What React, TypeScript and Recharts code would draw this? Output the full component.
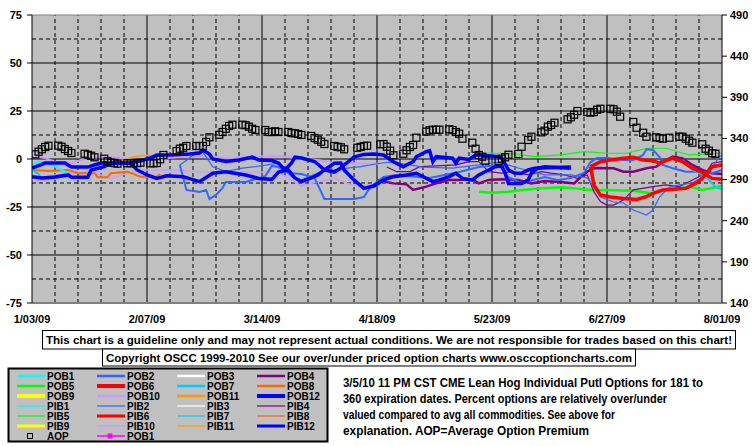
import React from "react";
import { ComposedChart, Line, XAxis, YAxis, CartesianGrid, ReferenceLine } from "recharts";

// x values are days counted from 1/03/09
const xTickDays = [0, 35, 70, 105, 140, 175, 210];
const xTickLabels = ["1/03/09", "2/07/09", "3/14/09", "4/18/09", "5/23/09", "6/27/09", "8/01/09"];
const pctTicks = [-75, -50, -25, 0, 25, 50, 75];
const aopTicks = [140, 190, 240, 290, 340, 390, 440, 490];

// [day, value] pairs
const aop = [
  [1, 320.7], [2, 323.9], [3, 326.8], [4, 329.6], [5, 331.2], [8, 331.2], [9, 329.9], [10, 327.1], [11, 324.7], [12, 322.3],
  [16, 321.4], [17, 320.2], [18, 319.0], [19, 317.1], [22, 315.4], [23, 312.2], [24, 310.5], [25, 310.1], [26, 309.3],
  [29, 309.8], [30, 309.9], [31, 310], [32, 310], [33, 310.5], [36, 309.8], [37, 309.8], [38, 310.1], [39, 314.6], [40, 319.9],
  [44, 324.7], [45, 327.5], [46, 328.7], [47, 330.8], [50, 330.8], [51, 330.8], [52, 330.8], [53, 335.7], [54, 341.4],
  [57, 344.5], [58, 347.8], [59, 351.8], [60, 355.1], [61, 356.7], [64, 356.7], [65, 356.0], [66, 354.3], [67, 351.8], [68, 350.2],
  [71, 350.2], [72, 347.8], [73, 347.8], [74, 348.7], [75, 347.8], [78, 347.8], [79, 346.6], [80, 346.2], [81, 345.4], [82, 344.2],
  [85, 343.0], [86, 340.5], [87, 338.5], [88, 336.0], [89, 333.2], [92, 330.8], [93, 329.9], [94, 329.2], [95, 326.8],
  [99, 328.7], [100, 329.6], [101, 330.8], [102, 331.2], [106, 332.9], [107, 333.2], [108, 329.9], [109, 325.1], [110, 319.5],
  [113, 321.4], [114, 325.6], [115, 329.6], [116, 332.0], [117, 340.9], [120, 348.2], [121, 349.9], [122, 350.6], [123, 350.6], [124, 350.6],
  [127, 351.1], [128, 350.2], [129, 347.8], [130, 345.7], [131, 339.7], [134, 334.8], [135, 327.5], [136, 319.9], [137, 317.8], [138, 312.9],
  [142, 312.9], [143, 315.4], [144, 317.1], [145, 320.2], [148, 321.1], [149, 329.9], [151, 338.1], [152, 342.1],
  [155, 347.4], [156, 349.4], [157, 354.3], [158, 356.3], [159, 359.1], [163, 363.2], [164, 365.7], [165, 368.8], [166, 373.3],
  [169, 372.1], [170, 371.3], [171, 372.1], [172, 374.9], [173, 376.1], [176, 376.1], [177, 375.4], [178, 372.5], [179, 366.4],
  [183, 360.0], [184, 353.0], [186, 346.9], [187, 342.1], [190, 341.4], [191, 340.5], [192, 339.7], [194, 340.9],
  [197, 342.1], [198, 342.1], [199, 339.7], [200, 337.2], [201, 334.8], [204, 332.9], [205, 327.5], [206, 325.1], [207, 322.0], [208, 321.4],
];

const pob12 = [
  [0, -4.7], [4, -2.1], [10, -2.1], [12, -4.2], [17, -4.2], [19, -3.1], [21, -2.1], [30, -2.1], [33, -1.0], [36, 0.5], [38, 2.1],
  [42, 2.1], [48, 2.6], [51, 3.1], [52, 4.7], [54, 2.6], [55, 0], [59, -1.3], [63, -0.5], [67, 1.0], [69, -0.5], [73, -0.8],
  [75, -2.1], [77, -5.7], [79, -2.1], [80, 1.0], [82, 0.5], [86, -1.3], [89, -5.7], [92, -6.8], [94, -4.7], [95, -3.1], [98, 1.0],
  [101, 2.4], [104, 2.6], [107, 2.1], [110, -1.4], [113, -4.0], [114, -3.1], [116, -1.4], [117, 1.2], [120, 3.8], [121, 4.3],
  [122, -1.4], [123, 1.2], [128, 0.4], [129, -2.2], [130, 0.4], [133, -0.2], [135, 2.1], [136, 2.1], [142, 1.2], [143, 0.5],
  [145, -5.7], [147, -7.4], [149, -7.4], [151, -5.7], [153, -4.8], [164, -4.2],
];

const pib12 = [
  [0, -9.2], [3, -9.9], [7, -9.4], [11, -8.3], [12, -9.5], [17, -9.5], [18, -5.7], [22, -4.0], [24, -2.2], [30, -2.2], [32, -5.7],
  [35, -8.3], [38, -10.1], [41, -8.7], [46, -9.2], [51, -11.8], [55, -7.4], [59, -6.6], [65, -8.3], [69, -10.1], [73, -10.6],
  [75, -6.8], [78, -5.7], [80, -9.9], [82, -11.8], [85, -9.9], [87, -8.3], [89, -5.7], [92, -2.2], [94, -2.1], [95, -5.7],
  [98, -10.9], [101, -15.3], [104, -14.1], [107, -10.9], [110, -9.2], [114, -8.3], [117, -7.4], [122, -11.8], [124, -10.9],
  [127, -9.2], [129, -7.4], [131, -10.1], [134, -10.9], [136, -8.3], [139, -5.7], [141, -4.0], [143, -3.6], [144, -7.4],
  [145, -12.7], [149, -12.7], [151, -10.9], [152, -7.4], [154, -4.8], [156, -4.0], [164, -4.8],
];

const pob2 = [
  [45, -3.1], [47, -16.1], [51, -17.2], [53, -16.1], [54, -20.8], [56, -18.7], [58, -15.1], [59, -12.0], [65, -12.0], [71, -8.9],
  [73, -3.6], [75, -4.2], [78, -7.3], [82, -7.8], [86, -9.9], [89, -20.8], [98, -20.8], [101, -19.8], [103, -14.6], [107, -9.4],
  [111, -8.3], [121, -9.9], [130, -6.8], [136, -4.2], [142, -3.1], [145, -9.4], [149, -12.5], [156, -9.4], [160, -10.9], [164, -9.9],
  [168, -7.3], [170, -1.6], [172, 0.5], [175, 0.5], [180, -0.5], [183, -0.5], [186, 2.1], [187, 5.1], [189, 4.7], [191, 1.0],
  [192, -3.1], [195, -4.8], [199, -6.6], [203, -6.6], [207, -7.4], [210, -5.7],
];

const pib2 = [
  [45, -3.1], [48, 0.5], [50, 3.6], [52, 3.6], [55, -4.0], [59, -6.6], [64, -4.8], [68, -4.0], [75, -2.2], [79, -9.2], [82, -10.9],
  [88, -6.6], [92, -5.7], [96, -4.8], [100, -4.0], [106, -2.2], [109, -1.6], [115, -3.1], [119, -4.2], [128, -4.7], [136, -3.1],
  [142, -1.6], [148, -4.7], [156, -8.3], [164, -8.3], [169, -9.9], [171, -14.6], [173, -19.8], [177, -22.4], [180, -22.9],
  [183, -26.6], [187, -29.2], [189, -26.6], [191, -19.8], [194, -14.6], [197, -13.5], [201, -12.5], [205, -8.3], [207, -4.7],
  [209, 1.0], [210, 2.1],
];

const pob10 = [
  [0, 2.1], [4, 0.5], [7, -1.6], [12, -2.1], [15, -0.5], [17, 0.5], [21, 1.2], [25, 0.9], [29, 0], [33, -0.9], [37, -0.5],
  [42, 0.5], [45, 1.2], [51, 1.0], [61, 0.4], [67, 1.2], [76, 1.6], [82, 0], [87, -0.5], [92, -2.1], [98, -2.2], [104, -2.6], [106, -2.4],
];

const pib10 = [
  [0, -9.2], [2, -11.8], [4, -10.9], [7, -8.3], [11, -7.3], [18, -6.8], [24, -10.1], [27, -8.3], [33, -5.7], [43, -5.7], [51, -6.6],
  [61, -6.6], [69, -6.8], [75, -6.8], [82, -14.1], [87, -11.8], [92, -10.1], [96, -12.7], [100, -14.4], [104, -13.0],
];

const pob8 = [[0, -5.7], [5, -6.3], [11, -5.7], [14, -7.4], [19, -7.4], [20, -9.5], [23, -9.5], [24, -7.4], [29, -6.6], [33, -9.2], [38, -9.2], [39, -7.8]];
const pob11 = [[18, -3.1], [21, -2.6], [25, -1.4], [28, -0.5], [31, 1.2], [33, 1.7], [36, 2.1], [38, 0.5]];
const pob1 = [[0, -3.6], [2, -1.6], [4, -1.6], [6, -3.1], [9, -5.7], [11, -7.3]];
const pob7 = [[0, -5.7], [2, -7.8], [3, -10.4], [7, -9.9], [11, -8.9]];
const pib7 = [[198, -0.5], [201, -5.7], [204, -8.3], [206, -10.9], [208, -14.6], [210, -15.6]];

const pob4 = [
  [105, -10.9], [110, -12.7], [114, -13.2], [116, -16.1], [120, -14.4], [123, -12.7], [127, -10.9], [130, -10.9], [134, -10.6],
  [136, -12.7], [139, -10.9], [143, -10.6], [148, -10.9], [152, -12.7], [156, -11.5], [161, -12.0], [165, -12.7], [167, -9.4],
  [169, -6.6], [171, -4.8], [173, -4.7], [177, -4.8], [180, -6.6], [183, -6.6], [187, -4.8], [190, -4.0], [193, -0.5], [195, 1.3],
  [198, 0.3], [201, -3.1], [204, -5.7], [207, -7.4], [210, -7.8],
];

const pib4 = [
  [108, -4.2], [111, -6.6], [115, -6.6], [118, -4.0], [123, -3.6], [129, -3.1], [133, -1.4], [136, -1.4], [139, -6.6], [143, -7.4],
  [146, -6.6], [151, -8.3], [155, -6.6], [158, -7.4], [162, -8.3], [166, -10.1], [169, -8.3], [171, -17.0], [173, -22.2],
  [175, -24.0], [177, -24.0], [180, -21.4], [183, -16.1], [189, -14.4], [193, -13.5], [197, -14.4], [201, -10.9], [205, -7.4],
  [207, -2.2], [210, -1.4],
];

const pob5 = [
  [136, -17.0], [140, -17.6], [145, -17.0], [149, -16.1], [155, -15.3], [161, -14.7], [165, -15.3], [170, -16.1], [175, -16.1],
  [183, -16.5], [189, -17.9], [193, -16.1], [200, -14.4], [204, -16.1], [210, -14.1],
];
const pib5 = [[137, 3.0], [145, 3.0], [153, 1.2], [161, 2.1], [168, 3.8], [175, 3.0], [181, 3.0], [187, 5.6], [193, 5.6], [200, 2.1], [210, 3.0]];

const pob6 = [
  [170, -4.0], [173, -1.4], [176, -0.5], [180, 0.4], [183, 0.9], [186, -0.5], [189, -0.9], [191, -2.2], [195, 0.4], [198, -1.4],
  [201, -4.8], [204, -7.0], [207, -10.1], [210, -10.6],
];
const pib6 = [
  [170, -4.0], [171, -13.5], [173, -18.7], [176, -19.8], [180, -20.6], [184, -21.1], [187, -19.6], [189, -17.9], [192, -16.1],
  [195, -15.8], [199, -15.3], [202, -12.7], [204, -10.1], [207, -4.0], [210, -3.1],
];

const legendNames = [
  "POB1", "POB2", "POB3", "POB4", "POB5", "POB6", "POB7", "POB8", "POB9", "POB10", "POB11", "POB12",
  "PIB1", "PIB2", "PIB3", "PIB4", "PIB5", "PIB6", "PIB7", "PIB8", "PIB9", "PIB10", "PIB11", "PIB12",
];
const noteLines = [
  "3/5/10 11 PM CST CME Lean Hog  Individual Putl Options for 181 to",
  "360 expiration dates. Percent options are relatively over/under",
  "valued compared to avg all commodities. See above for",
  "explanation. AOP=Average Option Premium",
];
const disclaimer = "This chart is a guideline only and may not represent actual conditions. We are not responsible for trades based on this chart!";
const copyright = "Copyright OSCC 1999-2010 See our over/under priced option charts www.osccoptioncharts.com";

const seriesColors = ["#00ffff", "#3366ff", "#ffffff", "#800080", "#00ff00", "#ff0000", "#00ccff", "#ff6600", "#ffff00", "#cc99ff", "#ff9900", "#0000ff"];

const toPoints = (pairs: number[][]) => pairs.map(([d, v]) => ({ d, v }));

// draw order: bottom first
const series = [
  { key: "pib10", data: pib10, color: "#cc99ff", width: 1.5 },
  { key: "pob10", data: pob10, color: "#cc99ff", width: 2 },
  { key: "pob8", data: pob8, color: "#ff6600", width: 2 },
  { key: "pob11", data: pob11, color: "#ff9900", width: 1.5 },
  { key: "pob7", data: pob7, color: "#00ccff", width: 2 },
  { key: "pob1", data: pob1, color: "#00ffff", width: 2 },
  { key: "pib5", data: pib5, color: "#00ff00", width: 1.2 },
  { key: "pob5", data: pob5, color: "#00ff00", width: 2.5 },
  { key: "pib4", data: pib4, color: "#800080", width: 1.2 },
  { key: "pob4", data: pob4, color: "#800080", width: 2.5 },
  { key: "pib2", data: pib2, color: "#3366ff", width: 1.2 },
  { key: "pob2", data: pob2, color: "#3366ff", width: 2 },
  { key: "pib12", data: pib12, color: "#0000ff", width: 3.5 },
  { key: "pob12", data: pob12, color: "#0000ff", width: 3.5 },
  { key: "pib7", data: pib7, color: "#00ccff", width: 2 },
  { key: "pib6", data: pib6, color: "#ff0000", width: 3.5 },
  { key: "pob6", data: pob6, color: "#ff0000", width: 3.5 },
];

const weekDays: number[] = [];
for (let d = 7; d < 210; d += 7) weekDays.push(d);
const pctGrid: number[] = [];
for (let v = -62.5; v < 75; v += 12.5) pctGrid.push(v);

const font = "Arial, 'Liberation Sans', sans-serif";
const tickStyle = { fontSize: 11, fontWeight: "bold", fill: "#000", fontFamily: font };

const SquareDot = (props: any) => {
  const { cx, cy, index } = props;
  if (cx == null || cy == null) return <g key={index} />;
  return <rect key={index} x={cx - 3.5} y={cy - 3.5} width={7} height={7} fill="none" stroke="#000" strokeWidth={1.2} />;
};

function LowerPanel() {
  const swatchWidth = (i: number) => {
    const n = (i % 12) + 1;
    const pob = i < 12;
    if (n === 6 || n === 9 || n === 12) return pob ? 4 : 3;
    return pob ? 2.5 : 1.2;
  };
  return (
    <svg width={755} height={446} style={{ position: "absolute", left: 0, top: 0 }}>
      <rect x={42.5} y={330.5} width={693} height={18.5} fill="#fff" stroke="#000" />
      <text x={46} y={343.5} fontSize={11} fontWeight="bold" fontFamily={font} textLength={686} lengthAdjust="spacingAndGlyphs">
        {disclaimer}
      </text>
      <rect x={102.5} y={349} width={533} height={17} fill="#fff" stroke="#000" />
      <text x={106} y={361.5} fontSize={11.5} fontWeight="bold" fontFamily={font} textLength={526} lengthAdjust="spacingAndGlyphs">
        {copyright}
      </text>

      <rect x={8.5} y={368.5} width={319} height={73} fill="#c0c0c0" stroke="#000" strokeWidth={2} />
      {legendNames.map((name, i) => {
        const col = i % 4;
        const row = Math.floor(i / 4);
        const x0 = 17 + col * 80;
        const y0 = 376 + row * 10;
        return (
          <g key={name}>
            <line x1={x0} x2={x0 + 28} y1={y0} y2={y0} stroke={seriesColors[i % 12]} strokeWidth={swatchWidth(i)} />
            <text x={x0 + 30} y={y0 + 4} fontSize={10} fontWeight="bold" fontFamily={font}>
              {name}
            </text>
          </g>
        );
      })}
      <rect x={27.5} y={433.5} width={5} height={5} fill="none" stroke="#000" />
      <text x={47} y={440} fontSize={10} fontWeight="bold" fontFamily={font}>AOP</text>
      <line x1={97} x2={125} y1={436} y2={436} stroke="#ff00ff" strokeWidth={1.5} />
      <rect x={107.5} y={433.5} width={5} height={5} fill="#ff00ff" />
      <text x={127} y={440} fontSize={10} fontWeight="bold" fontFamily={font}>POB1</text>

      {noteLines.map((t, i) => (
        <text key={i} x={343} y={386.5 + i * 16.3} fontSize={12.5} fontWeight="bold" fontFamily={font}
          textLength={[360, 324, 272, 246][i]} lengthAdjust="spacingAndGlyphs">
          {t}
        </text>
      ))}
    </svg>
  );
}

export default function App() {
  return (
    <div style={{ position: "absolute", left: 0, top: 0, width: 755, height: 446, background: "#fff" }}>
      <ComposedChart width={755} height={330} margin={{ top: 15, right: 0, bottom: 0, left: 0 }}>
        <CartesianGrid fill="#c0c0c0" horizontal={false} vertical={false} yAxisId="left" />
        <XAxis
          dataKey="d"
          type="number"
          domain={[0, 210]}
          ticks={xTickDays}
          interval={0}
          tickFormatter={(d: number) => xTickLabels[xTickDays.indexOf(d)]}
          tickLine={false}
          tickSize={6}
          tickMargin={6}
          height={27}
          axisLine={{ stroke: "#808080", strokeWidth: 2 }}
          tick={tickStyle}
          allowDataOverflow
        />
        <YAxis
          yAxisId="left"
          type="number"
          domain={[-75, 75]}
          ticks={pctTicks}
          interval={0}
          width={32}
          tickSize={5}
          tickMargin={5}
          tickLine={{ stroke: "#000" }}
          axisLine={{ stroke: "#000" }}
          tick={tickStyle}
          allowDataOverflow
        />
        <YAxis
          yAxisId="right"
          orientation="right"
          type="number"
          domain={[140, 490]}
          ticks={aopTicks}
          interval={0}
          width={33}
          tickSize={5}
          tickMargin={3}
          tickLine={{ stroke: "#000" }}
          axisLine={{ stroke: "#000" }}
          tick={tickStyle}
          allowDataOverflow
        />
        {weekDays.map((d) => (
          <ReferenceLine key={"v" + d} x={d} yAxisId="left" stroke="#000"
            strokeDasharray={d % 35 === 0 ? undefined : "4 3"} />
        ))}
        {pctGrid.map((v) => (
          <ReferenceLine key={"h" + v} y={v} yAxisId="left" stroke="#000"
            strokeDasharray={v % 25 === 0 ? undefined : "4 3"} />
        ))}
        <ReferenceLine y={75} yAxisId="left" stroke="#808080" />
        {series.map((s) => (
          <Line
            key={s.key}
            yAxisId="left"
            data={toPoints(s.data)}
            dataKey="v"
            type="linear"
            stroke={s.color}
            strokeWidth={s.width}
            dot={false}
            activeDot={false}
            isAnimationActive={false}
          />
        ))}
        <Line
          yAxisId="right"
          data={toPoints(aop)}
          dataKey="v"
          stroke="none"
          dot={SquareDot}
          activeDot={false}
          isAnimationActive={false}
        />
      </ComposedChart>
      <LowerPanel />
    </div>
  );
}
